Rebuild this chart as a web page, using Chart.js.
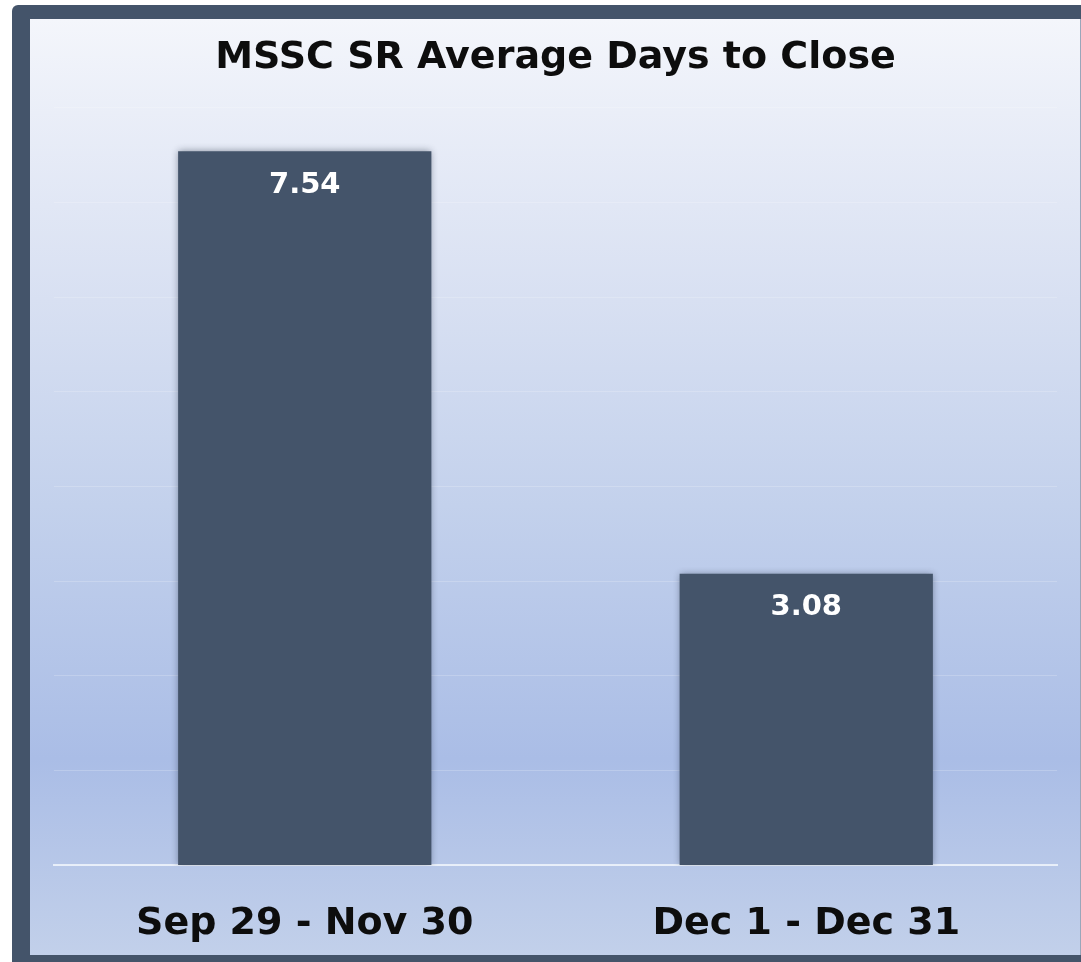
<!DOCTYPE html>
<html>
<head>
<meta charset="utf-8">
<script src="https://cdn.jsdelivr.net/npm/chart.js@4"></script>
<style>
  html, body { margin: 0; padding: 0; background: #ffffff; }
  #c { display: block; }
</style>
</head>
<body>
<canvas id="c" width="1081" height="962"></canvas>
<script>
const categories = ["Sep 29 - Nov 30", "Dec 1 - Dec 31"];
const avgDays = [7.54, 3.08];
const chartTitle = "MSSC SR Average Days to Close";
const yMax = 8;

const FONT = "'DejaVu Sans', sans-serif";

const framePlugin = {
  id: 'frame',
  beforeDraw(chart) {
    const ctx = chart.ctx;
    const W = chart.width, H = chart.height;
    ctx.save();
    ctx.fillStyle = '#ffffff';
    ctx.fillRect(0, 0, W, H);
    ctx.fillStyle = '#44546a';
    ctx.beginPath();
    ctx.roundRect(12, 5, W - 12, H - 5, [6, 0, 0, 0]);
    ctx.fill();
    const g = ctx.createLinearGradient(0, 19, 0, 955);
    g.addColorStop(0.00, '#f4f6fb');
    g.addColorStop(0.10, '#eaeef8');
    g.addColorStop(0.30, '#d8e0f2');
    g.addColorStop(0.52, '#c3d1ec');
    g.addColorStop(0.79, '#aabde6');
    g.addColorStop(1.00, '#c2d0ea');
    ctx.fillStyle = g;
    ctx.fillRect(30, 19, 1050, 936);
    ctx.fillStyle = '#9aa6ba';
    ctx.fillRect(1080, 19, 1, 936);
    ctx.restore();
  }
};

const shadowPlugin = {
  id: 'barShadow',
  beforeDatasetsDraw(chart) {
    const ctx = chart.ctx;
    ctx.save();
    ctx.shadowColor = 'rgba(20,30,50,0.45)';
    ctx.shadowBlur = 7;
    ctx.shadowOffsetX = 0;
    ctx.shadowOffsetY = 0;
  },
  afterDatasetsDraw(chart) {
    chart.ctx.restore();
  }
};

const valueLabelPlugin = {
  id: 'valueLabels',
  afterDraw(chart) {
    const ctx = chart.ctx;
    const meta = chart.getDatasetMeta(0);
    const data = chart.data.datasets[0].data;
    ctx.save();
    ctx.font = "bold 29px " + FONT;
    ctx.fillStyle = '#ffffff';
    ctx.textAlign = 'center';
    ctx.textBaseline = 'middle';
    meta.data.forEach((bar, i) => {
      ctx.fillText(data[i].toFixed(2), bar.x, bar.y + 34);
    });
    ctx.restore();
  }
};

new Chart(document.getElementById('c'), {
  type: 'bar',
  data: {
    labels: categories,
    datasets: [{
      data: avgDays,
      backgroundColor: '#44546a',
      borderWidth: 0,
      categoryPercentage: 1.0,
      barPercentage: 0.505
    }]
  },
  options: {
    responsive: false,
    animation: false,
    devicePixelRatio: 1,
    layout: { padding: { left: 54, right: 24, top: 0, bottom: -21 } },
    plugins: {
      legend: { display: false },
      tooltip: { enabled: false },
      title: {
        display: true,
        text: chartTitle,
        color: '#0d0d0d',
        font: { family: FONT, size: 38, weight: 'bold' },
        padding: { top: 35, bottom: 27 }
      }
    },
    scales: {
      x: {
        grid: { display: false, drawTicks: false },
        border: { display: true, color: 'rgba(236,242,251,0.9)', width: 2 },
        ticks: {
          color: '#0d0d0d',
          font: { family: FONT, size: 38, weight: 'bold' },
          padding: 36,
          maxRotation: 0
        }
      },
      y: {
        min: 0,
        max: yMax,
        ticks: { display: false, stepSize: 1 },
        grid: { color: 'rgba(255,255,255,0.2)', drawTicks: false, lineWidth: 1 },
        border: { display: false }
      }
    }
  },
  plugins: [framePlugin, shadowPlugin, valueLabelPlugin]
});
</script>
</body>
</html>
